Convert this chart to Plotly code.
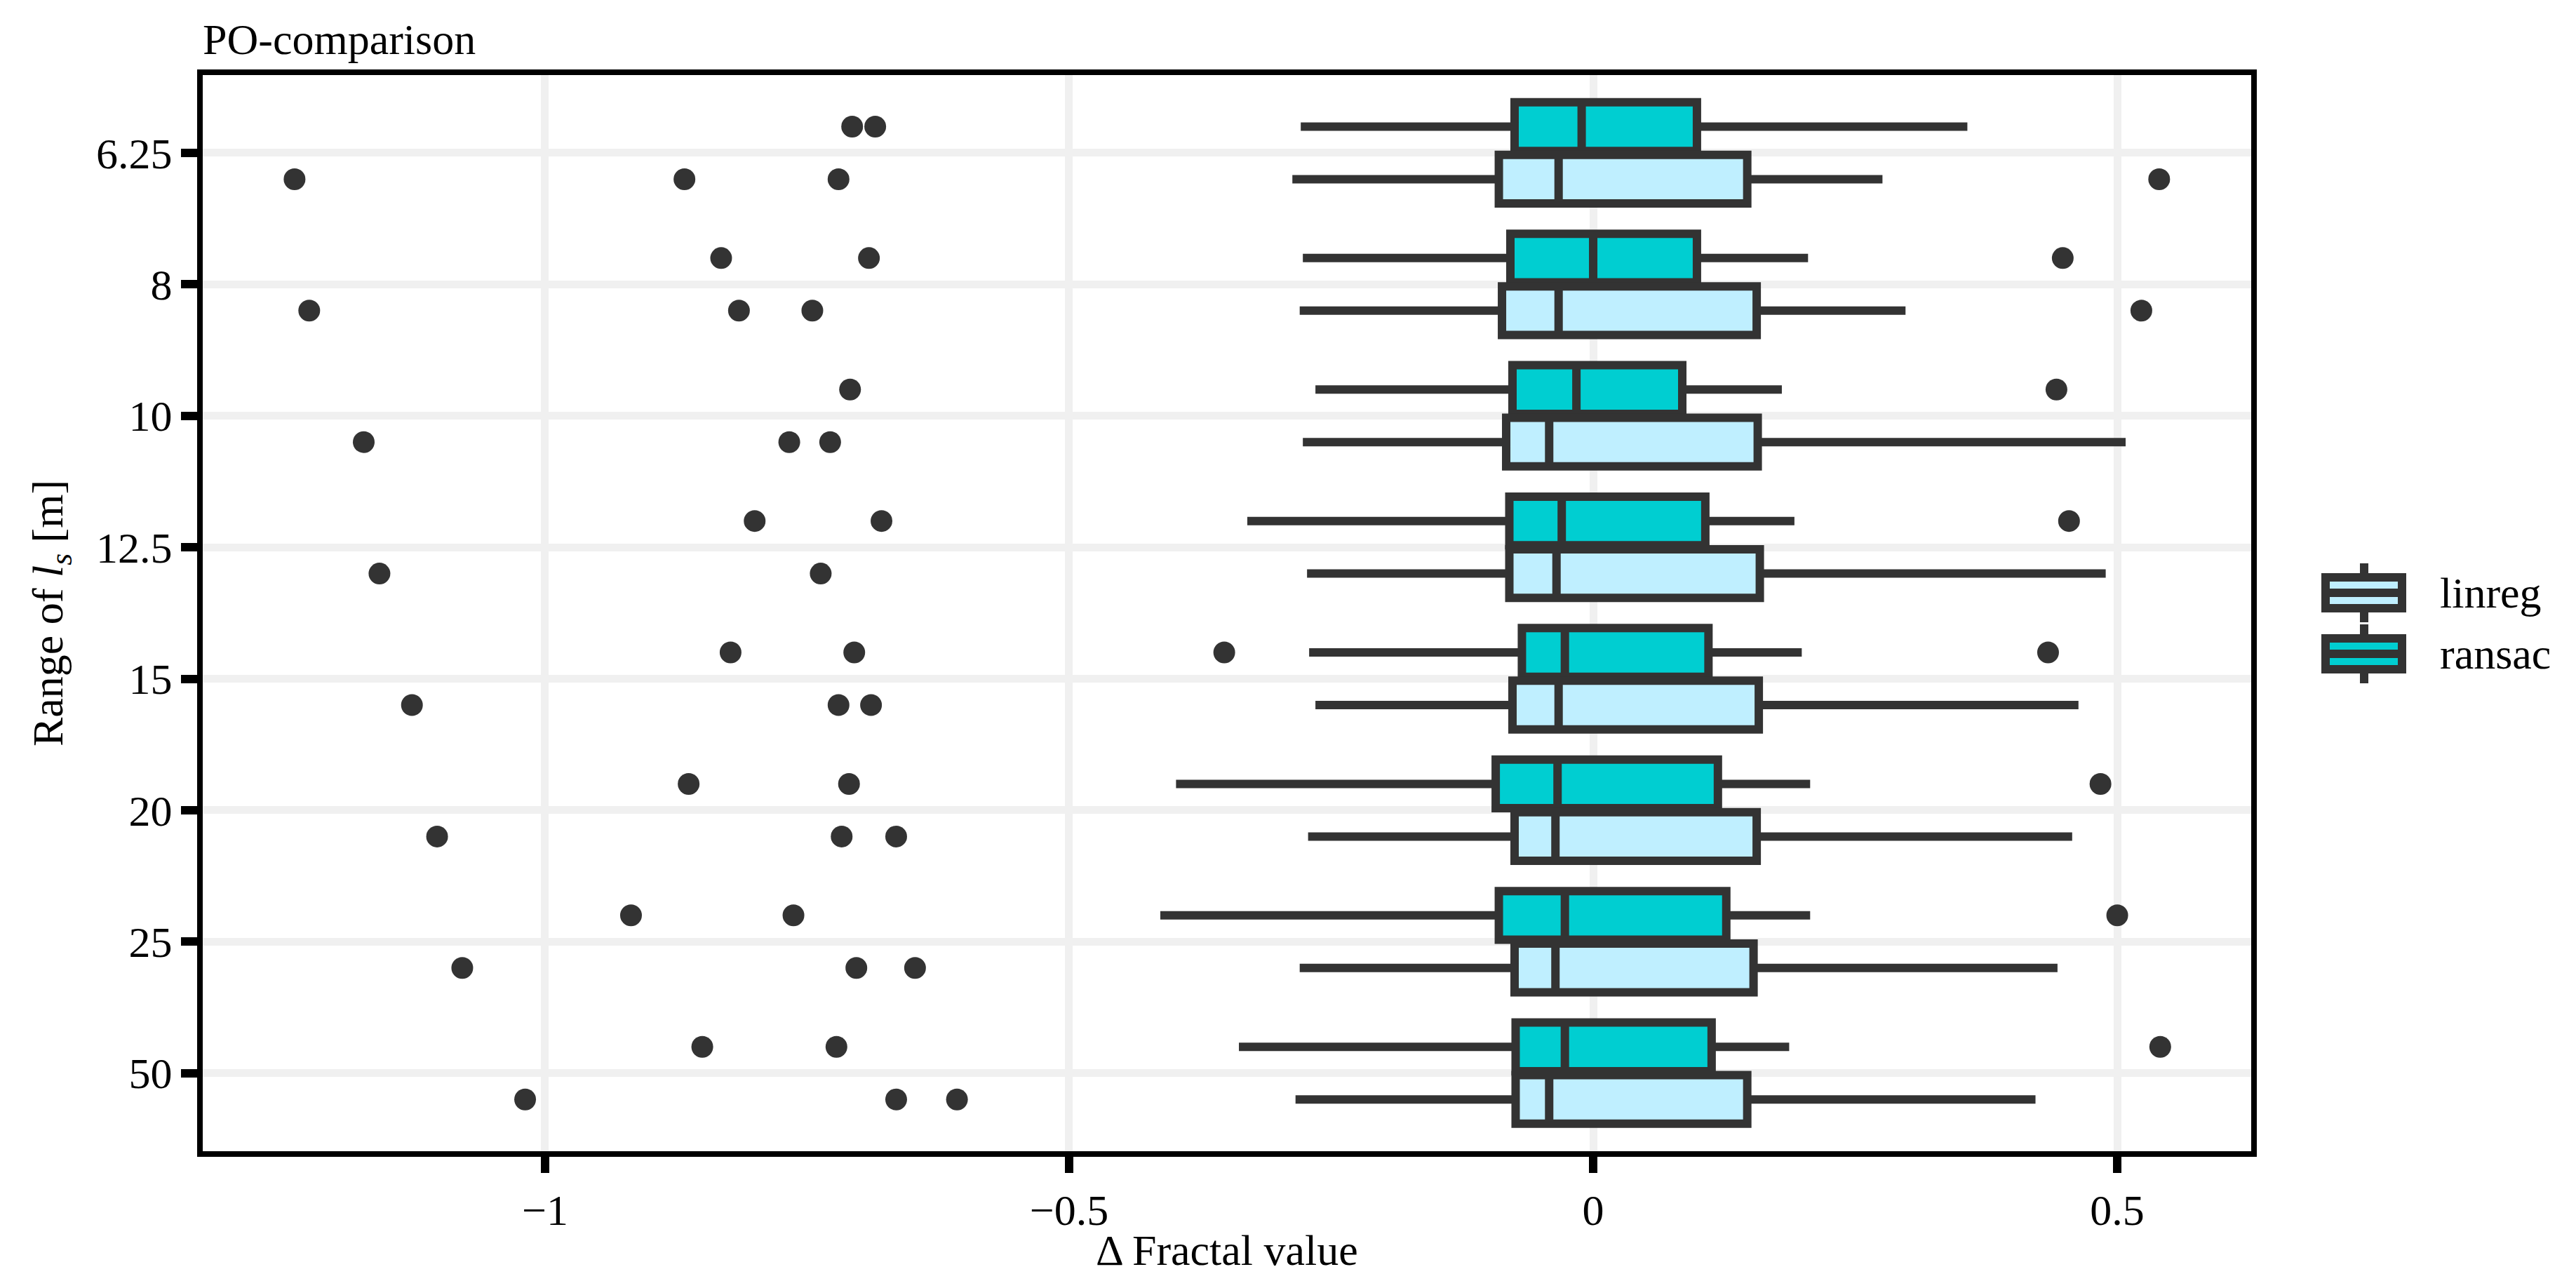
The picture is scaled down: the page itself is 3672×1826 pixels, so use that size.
import plotly.graph_objects as go

# l_s ranges (top to bottom)
CATEGORIES = ['6.25', '8', '10', '12.5', '15', '20', '25', '50']

# ransac box stats
RANSAC_LOW = [-0.279, -0.277, -0.265, -0.330, -0.271, -0.398, -0.413, -0.338]
RANSAC_Q1 = [-0.075, -0.079, -0.077, -0.080, -0.068, -0.093, -0.090, -0.074]
RANSAC_MED = [-0.011, 0.000, -0.016, -0.030, -0.027, -0.034, -0.027, -0.027]
RANSAC_Q3 = [0.099, 0.099, 0.085, 0.107, 0.110, 0.119, 0.127, 0.113]
RANSAC_HIGH = [0.357, 0.205, 0.180, 0.192, 0.199, 0.207, 0.207, 0.187]
RANSAC_OUTLIERS = [
    [-0.707, -0.685],
    [-0.832, -0.691, 0.448],
    [-0.709, 0.442],
    [-0.800, -0.679, 0.454],
    [-0.823, -0.705, -0.352, 0.434],
    [-0.863, -0.710, 0.484],
    [-0.918, -0.763, 0.500],
    [-0.850, -0.722, 0.541],
]

# linreg box stats
LINREG_LOW = [-0.287, -0.280, -0.277, -0.273, -0.265, -0.272, -0.280, -0.284]
LINREG_Q1 = [-0.090, -0.087, -0.083, -0.080, -0.077, -0.075, -0.075, -0.074]
LINREG_MED = [-0.033, -0.033, -0.042, -0.035, -0.033, -0.036, -0.036, -0.042]
LINREG_Q3 = [0.147, 0.156, 0.157, 0.159, 0.158, 0.156, 0.153, 0.147]
LINREG_HIGH = [0.276, 0.298, 0.508, 0.489, 0.463, 0.457, 0.443, 0.422]
LINREG_OUTLIERS = [
    [-1.239, -0.867, -0.720, 0.540],
    [-1.225, -0.815, -0.745, 0.523],
    [-1.173, -0.767, -0.728],
    [-1.158, -0.737],
    [-1.127, -0.720, -0.689],
    [-1.103, -0.717, -0.665],
    [-1.079, -0.703, -0.647],
    [-1.019, -0.665, -0.607],
]

FONT = 'Palatino Linotype, Book Antiqua, Palatino, Liberation Serif, serif'
LINE = '#333333'
RANSAC_FILL = '#00CED1'
LINREG_FILL = '#BFEFFF'

W, H = 3672, 1826
L, R, T, B = 281, 3201, 99, 1633  # plot frame in px


def px_x(px):
    return (px - L) / (R - L)


def px_y(py):
    return (B - py) / (B - T)


def box_trace(name, low, q1, med, q3, high, offset, fill):
    pos = [i + offset for i in range(len(CATEGORIES))]
    return go.Box(
        name=name, orientation='h', y=pos,
        q1=q1, median=med, q3=q3, lowerfence=low, upperfence=high,
        width=0.37, fillcolor=fill, line=dict(color=LINE, width=12),
        whiskerwidth=0, boxpoints=False, showlegend=False, hoverinfo='skip',
    )


def outlier_trace(outliers, offset):
    xs, ys = [], []
    for i, vals in enumerate(outliers):
        for v in vals:
            xs.append(v)
            ys.append(i + offset)
    return go.Scatter(
        x=xs, y=ys, mode='markers',
        marker=dict(size=31, color=LINE, line=dict(width=0)),
        showlegend=False, hoverinfo='skip',
    )


def legend_key(fig, yc, fill, label):
    # hand-drawn legend key (a small vertical boxplot) plus its label
    x0, x1, xc = 3307, 3416, 3362
    y0, y1 = yc - 22, yc + 22
    lw = dict(color=LINE, width=12)
    fig.add_shape(type='line', xref='paper', yref='paper',
                  x0=px_x(xc), x1=px_x(xc), y0=px_y(y0 - 20), y1=px_y(y1 + 20), line=lw)
    fig.add_shape(type='rect', xref='paper', yref='paper',
                  x0=px_x(x0), x1=px_x(x1), y0=px_y(y1), y1=px_y(y0),
                  fillcolor=fill, line=lw)
    fig.add_shape(type='line', xref='paper', yref='paper',
                  x0=px_x(x0), x1=px_x(x1), y0=px_y(yc), y1=px_y(yc), line=lw)
    fig.add_annotation(text=label, xref='paper', yref='paper',
                       x=px_x(3468), y=px_y(yc), xanchor='left', yanchor='middle',
                       showarrow=False, font=dict(family=FONT, size=62, color='black'))


fig = go.Figure()
fig.add_trace(box_trace('ransac', RANSAC_LOW, RANSAC_Q1, RANSAC_MED, RANSAC_Q3,
                        RANSAC_HIGH, -0.2, RANSAC_FILL))
fig.add_trace(box_trace('linreg', LINREG_LOW, LINREG_Q1, LINREG_MED, LINREG_Q3,
                        LINREG_HIGH, 0.2, LINREG_FILL))
fig.add_trace(outlier_trace(RANSAC_OUTLIERS, -0.2))
fig.add_trace(outlier_trace(LINREG_OUTLIERS, 0.2))

legend_key(fig, 837, LINREG_FILL, 'linreg')
legend_key(fig, 924, RANSAC_FILL, 'ransac')

# x axis title as an annotation so it can sit closer to the tick labels
fig.add_annotation(text='Δ Fractal value', xref='paper', yref='paper',
                   x=0.5, y=px_y(1774), xanchor='center', yanchor='middle',
                   showarrow=False, font=dict(family=FONT, size=62, color='black'))

axis_common = dict(
    showline=True, linecolor='black', linewidth=8, mirror=True,
    ticks='outside', ticklen=23, tickwidth=12, tickcolor='black',
    showgrid=True, gridcolor='#F0F0F0', gridwidth=11, zeroline=False,
    tickfont=dict(family=FONT, size=62, color='black'),
)

fig.update_xaxes(
    range=[-1.3266, 0.6278], tickmode='array', tickvals=[-1, -0.5, 0, 0.5],
    **axis_common,
)
fig.update_yaxes(
    range=[7.594, -0.592], tickmode='array',
    tickvals=list(range(len(CATEGORIES))), ticktext=CATEGORIES,
    title=dict(text='Range of <i>l<sub>s</sub></i> [m]',
               font=dict(family=FONT, size=62, color='black'), standoff=30),
    **axis_common,
)

fig.update_layout(
    width=W, height=H,
    margin=dict(l=L, r=W - R, t=T, b=H - B),
    plot_bgcolor='white', paper_bgcolor='white',
    boxmode='overlay',
    font=dict(family=FONT, size=62, color='black'),
    title=dict(text='PO-comparison', x=0, xref='paper', xanchor='left',
               y=1 - 47 / H, yref='container', yanchor='middle',
               font=dict(family=FONT, size=62, color='black')),
)

fig.write_html('out.html')
